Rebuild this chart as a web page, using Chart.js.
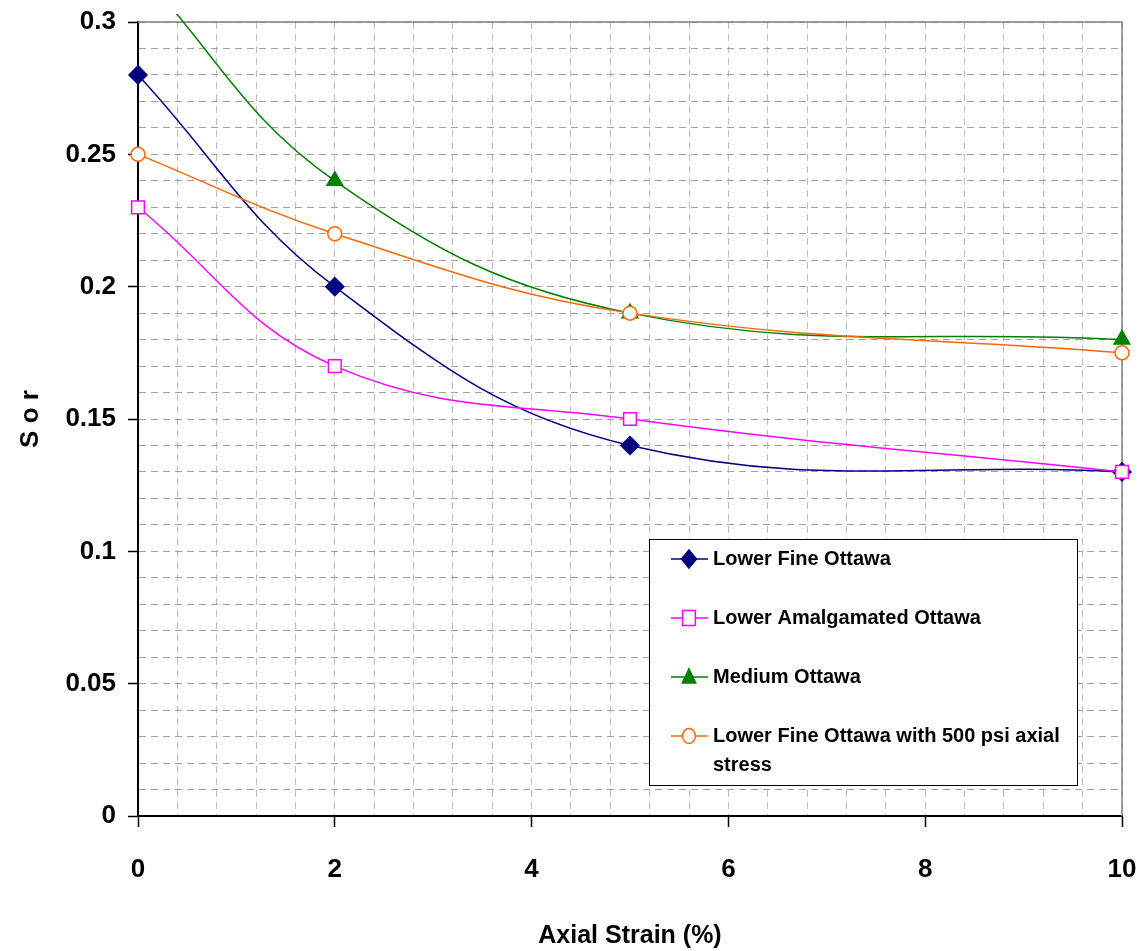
<!DOCTYPE html>
<html>
<head>
<meta charset="utf-8">
<script src="https://cdn.jsdelivr.net/npm/chart.js"></script>
<style>
  html, body { margin: 0; padding: 0; background: #fff; }
  canvas { display: block; }
</style>
</head>
<body>
<canvas id="sorChart" width="1145" height="951"></canvas>
<script>
// Axial strain (%) at which Sor was measured
const strain = [0, 2, 5, 10];

// Residual oil saturation per sand pack
const lowerFine = [0.28, 0.20, 0.14, 0.13];
const lowerAmalgamated = [0.23, 0.17, 0.15, 0.13];
const mediumOttawa = [0.32, 0.24, 0.19, 0.18];
const lowerFine500 = [0.25, 0.22, 0.19, 0.175];

const seriesNames = [
    'Lower Fine Ottawa',
    'Lower Amalgamated Ottawa',
    'Medium Ottawa',
    'Lower Fine Ottawa with 500 psi axial stress'
];

const FONT = "'Liberation Sans', Arial, sans-serif";

const toPoints = (ys) => strain.map((x, i) => ({ x: x, y: ys[i] }));
const isMultiple = (v, step) => Math.abs(v / step - Math.round(v / step)) < 1e-6;

// later series are painted on top of earlier ones
function makeSet(label, values, color, style, radius, fill, order) {
    return {
        label: label,
        data: toPoints(values),
        order: order,
        borderColor: color,
        borderWidth: 1.5,
        backgroundColor: fill,
        pointStyle: style,
        pointRadius: radius,
        pointHoverRadius: radius,
        pointBorderColor: color,
        pointBackgroundColor: fill,
        pointBorderWidth: 1.5,
        tension: 0.4,
        clip: { left: 12, right: 12, top: 8, bottom: 12 }
    };
}

// Grey frame on the top and right of the plot area
const plotFrame = {
    id: 'plotFrame',
    beforeDatasetsDraw(chart) {
        const { ctx, chartArea: a } = chart;
        ctx.save();
        ctx.strokeStyle = '#808080';
        ctx.lineWidth = 1.5;
        ctx.beginPath();
        ctx.moveTo(a.left, a.top);
        ctx.lineTo(a.right, a.top);
        ctx.lineTo(a.right, a.bottom);
        ctx.stroke();
        ctx.restore();
    }
};

function drawMarker(ctx, style, x, y, r, stroke, fill) {
    ctx.beginPath();
    if (style === 'rectRot') {
        ctx.moveTo(x, y - r * 1.2);
        ctx.lineTo(x + r, y);
        ctx.lineTo(x, y + r * 1.2);
        ctx.lineTo(x - r, y);
        ctx.closePath();
    } else if (style === 'rect') {
        ctx.rect(x - r * 0.85, y - r, r * 1.7, r * 2);
    } else if (style === 'triangle') {
        ctx.moveTo(x, y - r * 1.1);
        ctx.lineTo(x + r * 0.9, y + r * 0.8);
        ctx.lineTo(x - r * 0.9, y + r * 0.8);
        ctx.closePath();
    } else {
        ctx.ellipse(x, y, r * 0.85, r, 0, 0, Math.PI * 2);
    }
    ctx.fillStyle = fill;
    ctx.fill();
    ctx.strokeStyle = stroke;
    ctx.lineWidth = 1.5;
    ctx.stroke();
}

// Boxed legend sitting inside the plot area
const boxLegend = {
    id: 'boxLegend',
    afterDraw(chart) {
        const { ctx } = chart;
        const box = { left: 649, top: 539, right: 1077, bottom: 785 };
        ctx.save();
        ctx.fillStyle = '#fff';
        ctx.fillRect(box.left, box.top, box.right - box.left, box.bottom - box.top);
        ctx.strokeStyle = '#000';
        ctx.lineWidth = 1;
        ctx.strokeRect(box.left + 0.5, box.top + 0.5, box.right - box.left, box.bottom - box.top);

        ctx.font = 'bold 20px ' + FONT;
        ctx.textBaseline = 'middle';
        ctx.textAlign = 'left';
        const textX = 713;
        const maxW = 355;
        let rowY = 559;
        chart.data.datasets.forEach(ds => {
            ctx.strokeStyle = ds.borderColor;
            ctx.lineWidth = 1.5;
            ctx.beginPath();
            ctx.moveTo(671, rowY);
            ctx.lineTo(708, rowY);
            ctx.stroke();
            drawMarker(ctx, ds.pointStyle, 689, rowY, 7.5, ds.borderColor, ds.pointBackgroundColor);

            // wrap the label to the box width
            const words = ds.label.split(' ');
            const lines = [];
            let line = '';
            words.forEach(w => {
                const test = line ? line + ' ' + w : w;
                if (ctx.measureText(test).width > maxW && line) {
                    lines.push(line);
                    line = w;
                } else {
                    line = test;
                }
            });
            lines.push(line);
            ctx.fillStyle = '#000';
            lines.forEach((l, i) => ctx.fillText(l, textX, rowY + i * 29));
            rowY += 59;
        });
        ctx.restore();
    }
};

new Chart(document.getElementById('sorChart'), {
    type: 'line',
    data: {
        datasets: [
            makeSet(seriesNames[0], lowerFine, '#000080', 'rectRot', 9, '#000080', 4),
            makeSet(seriesNames[1], lowerAmalgamated, '#FF00FF', 'rect', 9, '#FFFFFF', 3),
            makeSet(seriesNames[2], mediumOttawa, '#008000', 'triangle', 9, '#008000', 2),
            makeSet(seriesNames[3], lowerFine500, '#FF6600', 'circle', 7, '#FFFFFF', 1)
        ]
    },
    options: {
        responsive: false,
        animation: false,
        layout: { padding: { left: 0, top: 22, right: 23, bottom: 0 } },
        plugins: {
            legend: { display: false },
            tooltip: { enabled: false }
        },
        scales: {
            x: {
                type: 'linear',
                min: 0,
                max: 10,
                afterFit: s => { s.height = 135; s.paddingLeft = 0; s.paddingRight = 0; },
                ticks: {
                    stepSize: 0.4,
                    autoSkip: false,
                    maxRotation: 0,
                    padding: 27,
                    color: '#000',
                    font: { family: FONT, size: 26, weight: 'bold' },
                    callback: v => isMultiple(v, 2) ? String(Math.round(v)) : ''
                },
                grid: {
                    color: '#bdbdbd',
                    lineWidth: 1,
                    tickLength: 11,
                    tickColor: c => (c.tick && isMultiple(c.tick.value, 2)) ? '#000' : 'rgba(0,0,0,0)',
                    tickWidth: 1.5
                },
                border: { color: '#000', width: 2, dash: [7, 5] },
                title: {
                    display: true,
                    text: 'Axial Strain (%)',
                    color: '#000',
                    font: { family: FONT, size: 25, weight: 'bold' },
                    padding: { top: 0, bottom: 0 }
                }
            },
            y: {
                min: 0,
                max: 0.3,
                afterFit: s => { s.width = 138; s.paddingTop = 0; s.paddingBottom = 0; },
                ticks: {
                    stepSize: 0.01,
                    autoSkip: false,
                    padding: 12,
                    color: '#000',
                    font: { family: FONT, size: 26, weight: 'bold' },
                    callback: v => isMultiple(v, 0.05) ? String(Math.round(v * 100) / 100) : ''
                },
                grid: {
                    color: '#a0a0a0',
                    lineWidth: 1,
                    tickLength: 10,
                    tickColor: c => (c.tick && isMultiple(c.tick.value, 0.05)) ? '#000' : 'rgba(0,0,0,0)',
                    tickWidth: 1.5
                },
                border: { color: '#000', width: 2, dash: [7, 5] },
                title: {
                    display: true,
                    text: 'S o r',
                    color: '#000',
                    font: { family: FONT, size: 26, weight: 'bold' },
                    padding: { top: 15, bottom: 0 }
                }
            }
        }
    },
    plugins: [plotFrame, boxLegend]
});
</script>
</body>
</html>
